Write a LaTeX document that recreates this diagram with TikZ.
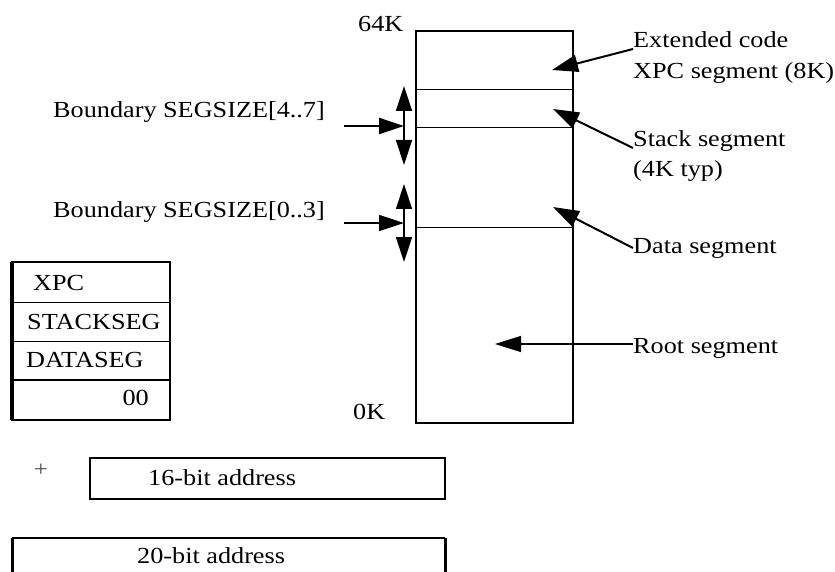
\documentclass[tikz,border=0pt]{standalone}
\usepackage{fontspec}
\setmainfont[FakeStretch=1.14]{Liberation Serif}
\usetikzlibrary{arrows.meta}
\begin{document}
\begin{tikzpicture}[x=1pt,y=-1pt,
  lbl/.style={inner sep=0pt,font=\fontsize{23}{26}\selectfont,anchor=base west},
  lblr/.style={inner sep=0pt,font=\fontsize{23}{26}\selectfont,anchor=base east},
  thickbox/.style={draw,line width=2.5pt},
  thinline/.style={line width=1pt},
  bigtip/.style={-{Triangle[length=26pt,width=17pt]}},
  dbltip/.style={{Triangle[length=25pt,width=16pt]}-{Triangle[length=25pt,width=16pt]}},
  ptr/.style={line width=2pt,bigtip},
]
\useasboundingbox (0,0) rectangle (835,572);
\fill[white] (0,0) rectangle (835,572);

% memory map
\draw[thickbox] (416,31) rectangle (573,423);
\coordinate (b1l) at (416,90);  \coordinate (b1r) at (573,90);
\coordinate (b2l) at (416,128); \coordinate (b2r) at (573,128);
\coordinate (b3l) at (416,227); \coordinate (b3r) at (573,227);
\draw[thinline] (b1l) -- (b1r);
\draw[thinline] (b2l) -- (b2r);
\draw[thinline] (b3l) -- (b3r);
\node[lbl] (k64) at (358,32) {64K};
\node[lbl] (k0) at (353,419) {0K};

% boundary arrows
\coordinate (u1) at (404,86); \coordinate (u2) at (404,165);
\coordinate (l1) at (404,184); \coordinate (l2) at (404,262);
\draw[line width=1.4pt,dbltip] (u1) -- (u2);
\draw[line width=1.4pt,dbltip] (l1) -- (l2);
\coordinate (ua) at (344,126); \coordinate (ut) at (404,126);
\coordinate (la) at (344,223); \coordinate (lt) at (404,223);
\draw[line width=2.4pt,-{Triangle[length=25pt,width=16pt]}] (ua) -- (ut);
\draw[line width=1.6pt,-{Triangle[length=25pt,width=16pt]}] (la) -- (lt);
\node[lbl] (bnd47) at (53,118) {Boundary SEGSIZE[4..7]};
\node[lbl] (bnd03) at (53,218) {Boundary SEGSIZE[0..3]};

% right labels
\node[lbl] (ext1) at (633,48) {Extended code};
\node[lbl] (ext2) at (633,79) {XPC segment (8K)};
\node[lbl] (stk1) at (633,147) {Stack segment};
\node[lbl] (stk2) at (633,177) {(4K typ)};
\node[lbl] (dat) at (633,253) {Data segment};
\node[lbl] (root) at (633,353) {Root segment};
\coordinate (extS) at (633,49);  \coordinate (extT) at (552,70);
\coordinate (stkS) at (633,148); \coordinate (stkT) at (553,109);
\coordinate (datS) at (633,248); \coordinate (datT) at (553,207);
\coordinate (rootS) at (633,344); \coordinate (rootT) at (495,344);
\draw[ptr] (extS) -- (extT);
\draw[ptr] (stkS) -- (stkT);
\draw[ptr] (datS) -- (datT);
\draw[line width=1.2pt,-{Triangle[length=26pt,width=16pt]}] (rootS) -- (rootT);

% register table
\draw[thickbox] (12,262) rectangle (170,420);
\draw[line width=3.5pt] (12,262) -- (12,420);
\draw[thinline] (12,302) -- (170,302);
\draw[thinline] (12,341) -- (170,341);
\draw[line width=2pt] (12,380) -- (170,380);
\node[lbl] (xpc) at (33,290) {XPC};
\node[lbl] (stkseg) at (27,329) {STACKSEG};
\node[lbl] (dataseg) at (26,367) {DATASEG};
\node[lblr] (zz) at (149,405) {00};

% address boxes
\node[inner sep=0pt,font=\fontsize{22}{22}\selectfont,text=black!70] (plus) at (41,470) {+};
\draw[thickbox] (90,458) rectangle (445,499);
\node[lbl] (a16) at (148,485) {16-bit address};
\draw[thickbox] (12,538) -- (445,538);
\draw[line width=3pt] (12,538) -- (12,575);
\draw[line width=3pt] (445,538) -- (445,575);
\node[lbl] (a20) at (137,563) {20-bit address};
\end{tikzpicture}
\end{document}
